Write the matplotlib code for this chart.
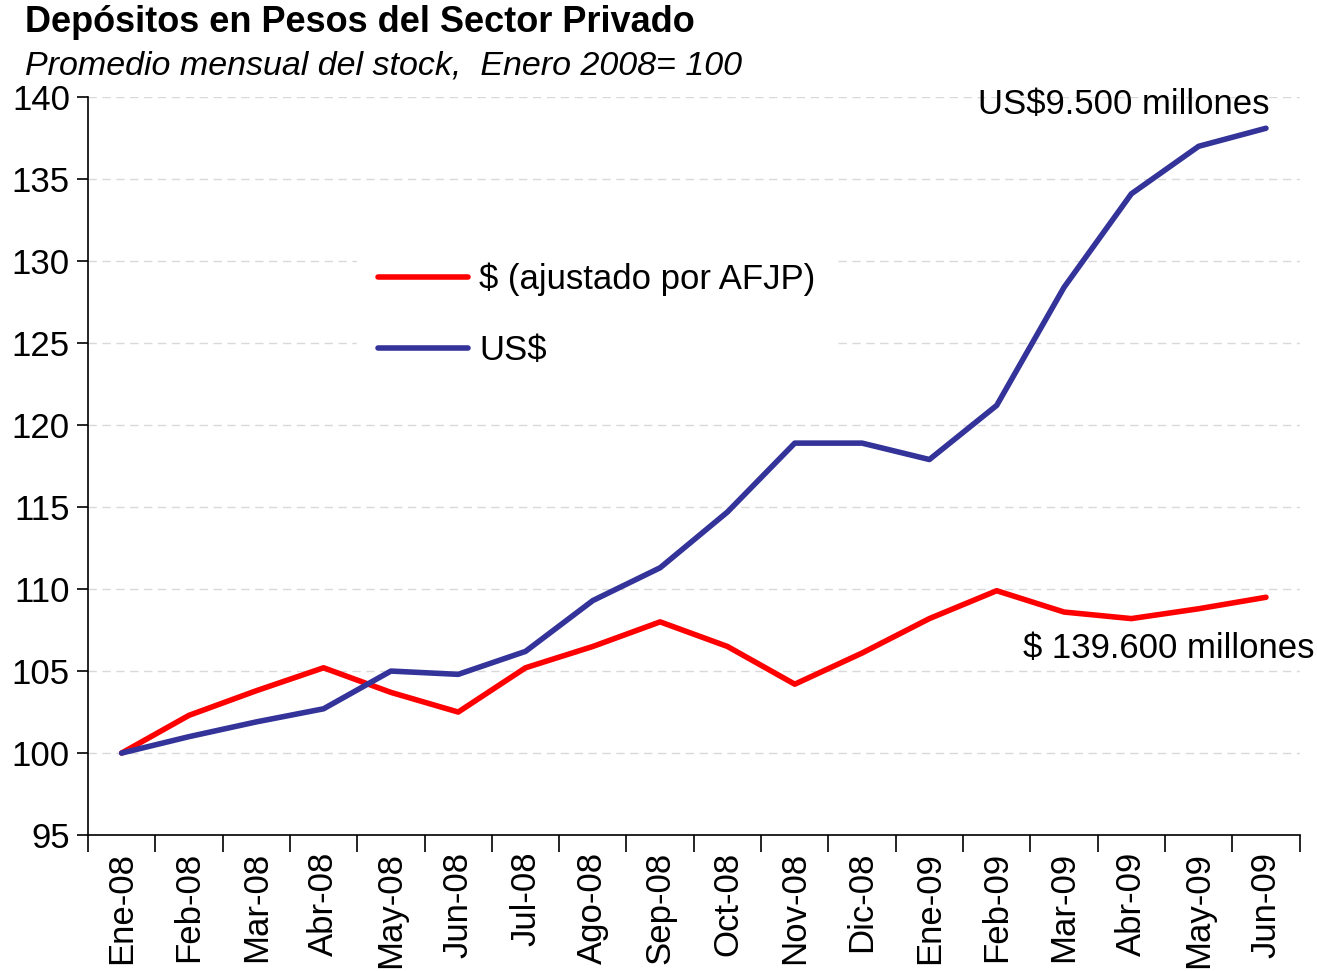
import matplotlib
matplotlib.use("Agg")
import matplotlib.pyplot as plt

months = ["Ene-08", "Feb-08", "Mar-08", "Abr-08", "May-08", "Jun-08", "Jul-08", "Ago-08", "Sep-08",
          "Oct-08", "Nov-08", "Dic-08", "Ene-09", "Feb-09", "Mar-09", "Abr-09", "May-09", "Jun-09"]
pesos = [100.0, 102.3, 103.8, 105.2, 103.7, 102.5, 105.2, 106.5, 108.0,
         106.5, 104.2, 106.1, 108.2, 109.9, 108.6, 108.2, 108.8, 109.5]
usd = [100.0, 101.0, 101.9, 102.7, 105.0, 104.8, 106.2, 109.3, 111.3,
       114.7, 118.9, 118.9, 117.9, 121.2, 128.4, 134.1, 137.0, 138.1]
yticks = [95, 100, 105, 110, 115, 120, 125, 130, 135, 140]

plt.rcParams['font.family'] = ['Liberation Sans', 'DejaVu Sans']

fig = plt.figure(figsize=(13.17, 9.71), dpi=100)
ax = fig.add_axes([0.0668, 0.140, 0.920, 0.760])

x = list(range(len(months)))
ax.plot(x, pesos, color="#FF0000", lw=4.0, label="$ (ajustado por AFJP)", solid_capstyle='round')
ax.plot(x, usd, color="#333399", lw=4.0, label="US$", solid_capstyle='round')

ax.set_xlim(-0.5, len(months) - 0.5)
ax.set_ylim(95, 140)
ax.set_yticks(yticks)
ax.set_yticklabels([str(v) for v in yticks], fontsize=25)
ax.set_xticks([i + 0.5 for i in range(-1, len(months))], minor=False)
ax.set_xticklabels([])
ax.set_xticks(x, minor=True)
ax.set_xticklabels(months, minor=True, rotation=90, fontsize=25)
ax.tick_params(axis='x', which='minor', length=0, pad=12)
ax.tick_params(axis='x', which='major', length=12, width=1.2, direction='out')
ax.tick_params(axis='y', length=8, width=1.2, direction='out', pad=5)

for v in yticks[1:]:
    ax.axhline(v, color="#d9d9d9", lw=1, ls=(0, (6, 4)), zorder=0)

for s in ["top", "right"]:
    ax.spines[s].set_visible(False)
for s in ["left", "bottom"]:
    ax.spines[s].set_linewidth(1.2)

leg = ax.legend(loc="upper left", bbox_to_anchor=(0.208, 0.827), fontsize=25, frameon=True,
                framealpha=1, edgecolor="white", handlelength=2.6, handletextpad=0.3,
                labelspacing=1.08, borderpad=0.6)

ax.text(len(months) - 0.95, 139.55, "US$9.500 millones", ha="right", va="center", fontsize=25)
ax.text(len(months) - 0.28, 106.4, "$ 139.600 millones", ha="right", va="center", fontsize=25)

fig.text(0.019, 0.977, "Depósitos en Pesos del Sector Privado", fontsize=26, fontweight="bold", va="center")
fig.text(0.019, 0.932, "Promedio mensual del stock,  Enero 2008= 100", fontsize=24.5, style="italic", va="center")

fig.savefig("out.png", dpi=100, facecolor="white")
